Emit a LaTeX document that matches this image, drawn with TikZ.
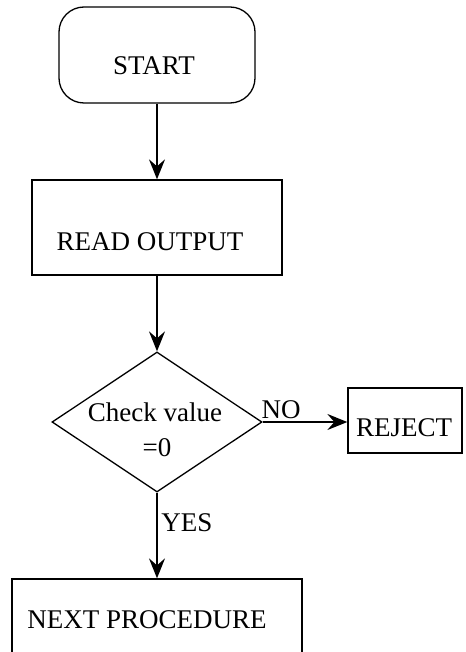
\documentclass[tikz,border=0pt]{standalone}
\usepackage{fontspec}
\setmainfont{Liberation Serif}
\usetikzlibrary{shapes.geometric,arrows.meta}
\begin{document}
\begin{tikzpicture}[x=1pt,y=-1pt,
  line width=1.3pt,
  every node/.style={font=\fontsize{27}{31}\selectfont},
  box/.style={draw,rectangle,inner sep=0pt},
  term/.style={draw,rectangle,rounded corners=25pt,inner sep=0pt},
  decision/.style={draw,diamond,inner sep=0pt,aspect=1.5},
  txt/.style={inner sep=0pt},
  flow/.style={-{Stealth[length=20pt,width=16pt,inset=7pt]}}]
\useasboundingbox (0,0) rectangle (465,652);

% shapes
\node[term,minimum width=196pt,minimum height=96pt] (start) at (157,55) {};
\node[box,minimum width=250pt,minimum height=95pt] (read) at (157,227.5) {};
\node[decision,minimum width=210pt,minimum height=140pt] (check) at (157,422) {};
\node[box,minimum width=114pt,minimum height=65pt] (reject) at (405,420.5) {};
\node[box,minimum width=290pt,minimum height=120pt] (next) at (157,639) {};

% texts
\node[txt] (tstart) at (154,66) {START};
\node[txt] (tread) at (150,242) {READ OUTPUT};
\node[txt] (tcheck) at (155,412) {Check value};
\node[txt] (tzero) at (157,448) {=0};
\node[txt] (treject) at (404,428) {REJECT};
\node[txt] (tnext) at (147,620) {NEXT PROCEDURE};

% connectors
\draw[flow] (start.south) -- (read.north);
\draw[flow] (read.south) -- (check.north);
\draw[flow] (check.east) -- (check.east -| reject.west);
\draw[flow] (check.south) -- (next.north);

% branch labels
\node[txt] (lno) at (281,410) {NO};
\node[txt] (lyes) at (187,523) {YES};
\end{tikzpicture}
\end{document}
